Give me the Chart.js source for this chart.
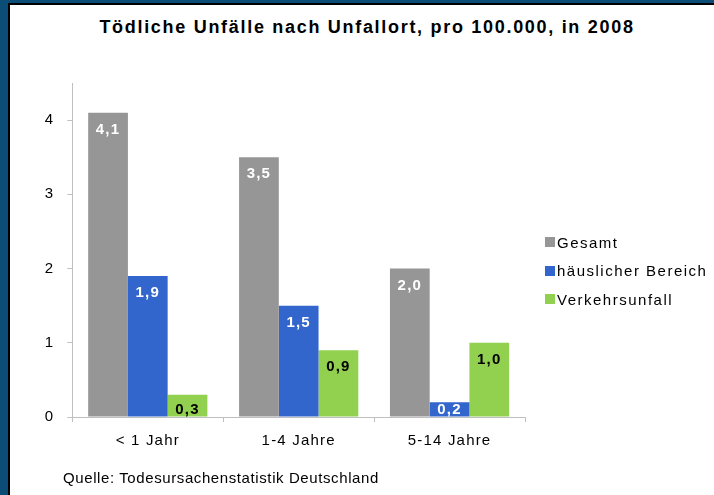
<!DOCTYPE html>
<html>
<head>
<meta charset="utf-8">
<script src="https://cdn.jsdelivr.net/npm/chart.js@4/dist/chart.umd.min.js"></script>
<style>
  html, body { margin: 0; padding: 0; background: #fff; }
  body { width: 714px; height: 495px; position: relative; overflow: hidden; font-family: "Liberation Sans", Arial, sans-serif; }
  .edge-top { position: absolute; left: 0; top: 0; width: 714px; height: 3px; background: #0b4d76; }
  .edge-top-line { position: absolute; left: 8px; top: 3px; width: 706px; height: 2px; background: #000; }
  .edge-left { position: absolute; left: 0; top: 0; width: 8px; height: 495px; background: #0b4d76; }
  .edge-left-line { position: absolute; left: 8px; top: 3px; width: 2px; height: 492px; background: #000; }
  #title { position: absolute; left: 10px; width: 714px; top: 17px; text-align: center; font-size: 18px; font-weight: bold; letter-spacing: 1.7px; color: #000; }
  #wrap { position: absolute; left: 10px; top: 5px; width: 704px; height: 490px; }
  #legend { position: absolute; left: 545px; top: 228px; font-size: 15px; letter-spacing: 1.5px; color: #000; }
  #legend .item { height: 28.5px; display: flex; align-items: center; white-space: nowrap; }
  #legend .box { width: 10px; height: 10px; margin-right: 2px; }
  #source { position: absolute; left: 63px; top: 469px; font-size: 15px; color: #000; letter-spacing: 0.6px; }
</style>
</head>
<body>
<div class="edge-top"></div>
<div class="edge-left"></div>
<div class="edge-top-line"></div>
<div class="edge-left-line"></div>
<div id="title">Tödliche Unfälle nach Unfallort, pro 100.000, in 2008</div>
<div id="wrap"><canvas id="chart"></canvas></div>
<div id="legend"></div>
<div id="source">Quelle: Todesursachenstatistik Deutschland</div>
<script>
const categories = ['< 1 Jahr', '1-4 Jahre', '5-14 Jahre'];
const gesamt = [4.1, 3.5, 2.0];
const haeuslich = [1.9, 1.5, 0.2];
const verkehr = [0.3, 0.9, 1.0];
const yTicks = [0, 1, 2, 3, 4];

const COLORS = { gesamt: '#969696', haeuslich: '#3366cc', verkehr: '#92d050' };
const FONT = '"Liberation Sans", Arial, sans-serif';

// the original text is set wide, so spread canvas text a little
const spacing = {
  id: 'spacing',
  beforeDraw(chart) { chart.ctx.letterSpacing = '1.2px'; }
};

// value labels inside the bar tops, German decimal comma
const barLabels = {
  id: 'barLabels',
  afterDatasetsDraw(chart) {
    const ctx = chart.ctx;
    ctx.save();
    ctx.font = 'bold 15px ' + FONT;
    ctx.letterSpacing = '1.2px';
    ctx.textAlign = 'center';
    ctx.textBaseline = 'middle';
    chart.data.datasets.forEach((ds, i) => {
      chart.getDatasetMeta(i).data.forEach((bar, j) => {
        const y = Math.min(bar.y + 17, bar.base - 7);
        ctx.fillStyle = ds.labelColor;
        ctx.fillText(ds.data[j].toFixed(1).replace('.', ','), bar.x, y);
      });
    });
    ctx.restore();
  }
};

const chart = new Chart(document.getElementById('chart'), {
  type: 'bar',
  data: {
    labels: categories,
    datasets: [
      { label: 'Gesamt', data: gesamt, backgroundColor: COLORS.gesamt, labelColor: '#fff' },
      { label: 'häuslicher Bereich', data: haeuslich, backgroundColor: COLORS.haeuslich, labelColor: '#fff' },
      { label: 'Verkehrsunfall', data: verkehr, backgroundColor: COLORS.verkehr, labelColor: '#000' },
    ],
  },
  options: {
    responsive: true,
    maintainAspectRatio: false,
    animation: false,
    layout: { padding: { left: 23, right: 189, top: 78, bottom: 35 } },
    datasets: { bar: { categoryPercentage: 0.79, barPercentage: 1 } },
    plugins: { legend: { display: false }, tooltip: { enabled: false } },
    scales: {
      x: {
        border: { color: '#bfbfbf' },
        grid: { offset: true, drawOnChartArea: false, tickLength: 5, color: '#bfbfbf' },
        ticks: { color: '#000', font: { family: FONT, size: 15 }, padding: 10 },
      },
      y: {
        min: 0,
        max: 4.5,
        border: { color: '#bfbfbf' },
        grid: { drawOnChartArea: false, tickLength: 5, color: '#bfbfbf' },
        afterBuildTicks: scale => { scale.ticks = yTicks.map(v => ({ value: v })); },
        ticks: { color: '#000', font: { family: FONT, size: 15 }, padding: 13 },
      },
    },
  },
  plugins: [spacing, barLabels],
});

const legend = document.getElementById('legend');
chart.data.datasets.forEach(ds => {
  const item = document.createElement('div');
  item.className = 'item';
  item.innerHTML = `<span class="box" style="background:${ds.backgroundColor}"></span><span>${ds.label}</span>`;
  legend.appendChild(item);
});
</script>
</body>
</html>
